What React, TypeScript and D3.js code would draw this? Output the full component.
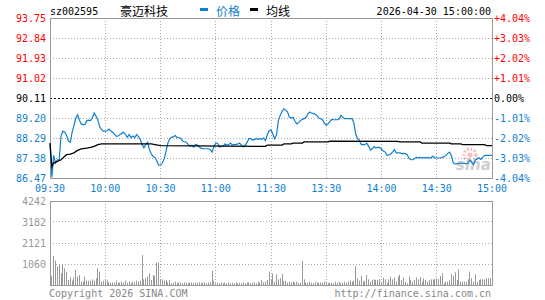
import React from "react";
import * as d3 from "d3";

const prevClose = 90.11;
const priceTicks = [93.75, 92.84, 91.93, 91.02, 90.11, 89.2, 88.29, 87.38, 86.47];
const pctTicks = ["+4.04%", "+3.03%", "+2.02%", "+1.01%", "0.00%", "-1.01%", "-2.02%", "-3.03%", "-4.04%"];
const timeLabels = ["09:30", "10:00", "10:30", "11:00", "11:30", "13:30", "14:00", "14:30", "15:00"];
const volTicks = [4242, 3182, 2121, 1060];

const prices = [
  88.05, 86.5, 87.5, 87.15, 87.3, 87.3, 88.4, 88.6, 88.55, 88.4,
  88.15, 88.1, 88.55, 88.85, 89.2, 89.35, 89.1, 88.93, 88.9, 88.9,
  89.08, 89.1, 89.08, 89.2, 89.43, 89.28, 89.1, 88.8, 88.67, 88.6,
  88.6, 88.62, 88.7, 88.62, 88.55, 88.47, 88.37, 88.38, 88.45, 88.5,
  88.55, 88.45, 88.32, 88.45, 88.3, 88.38, 88.3, 88.45, 88.35, 88.22,
  88.0, 87.85, 88.0, 88.1, 87.76, 87.56, 87.45, 87.4, 87.25, 87.05,
  87.05, 87.15, 87.35, 87.68, 88.06, 88.25, 88.32, 88.35, 88.4, 88.32,
  88.3, 88.28, 88.15, 88.12, 88.1, 88.0, 87.92, 87.96, 87.88, 88.0,
  87.97, 87.88, 87.83, 87.8, 87.8, 87.8, 87.8, 87.77, 87.65, 87.9,
  88.06, 88.05, 87.88, 87.91, 87.91, 88.02, 87.96, 87.99, 88.06, 87.97,
  87.99, 87.99, 88.02, 88.05, 87.96, 87.88, 87.96, 88.09, 88.26, 88.26,
  88.2, 88.23, 88.26, 88.23, 88.26, 88.23, 88.29, 88.17, 88.44, 88.62,
  88.65, 88.47, 88.26, 88.44, 89.08, 89.32, 89.5, 89.62, 89.56, 89.47,
  89.23, 89.2, 89.23, 89.05, 88.93, 88.99, 89.08, 89.14, 89.17, 89.23,
  89.38, 89.47, 89.43, 89.4, 89.37, 89.31, 89.2, 89.17, 89.11, 88.96,
  88.87, 88.93, 89.05, 89.14, 89.12, 89.12, 89.12, 89.15, 89.32, 89.23,
  89.17, 89.17, 89.17, 89.17, 89.17, 88.97, 88.47, 88.26, 88.18, 87.99,
  88.0, 87.99, 88.06, 87.91, 87.74, 87.8, 87.9, 87.83, 87.87, 87.85,
  87.79, 87.7, 87.65, 87.5, 87.52, 87.56, 87.65, 87.76, 87.61, 87.61,
  87.61, 87.58, 87.59, 87.58, 87.53, 87.35, 87.3, 87.3, 87.36, 87.41,
  87.39, 87.41, 87.38, 87.41, 87.38, 87.41, 87.38, 87.41, 87.46, 87.38,
  87.38, 87.38, 87.38, 87.41, 87.44, 87.5, 87.59, 87.65, 87.47, 87.15,
  87.11, 87.11, 87.14, 87.15, 87.12, 87.14, 87.11, 87.15, 87.29, 87.18,
  87.08, 87.29, 87.35, 87.38, 87.32, 87.42, 87.5, 87.5, 87.5, 87.5,
  87.5,
];

const avgMinutes = [
  0, 1, 2, 4, 6, 8, 9, 11, 13, 14,
  16, 17, 20, 22, 24, 26, 28, 55, 57, 60,
  80, 117, 118, 126, 127, 131, 132, 137, 138, 151,
  152, 189, 190, 201, 202, 217, 218, 223, 224, 236,
  237, 240,
];
const avgValues = [
  88.05, 86.98, 87.15, 87.23, 87.3, 87.46, 87.53, 87.56, 87.61, 87.68,
  87.76, 87.8, 87.83, 87.86, 87.91, 87.99, 88.02, 88.02, 87.99, 87.94,
  87.93, 87.91, 87.97, 87.97, 88.02, 88.02, 88.06, 88.06, 88.11, 88.11,
  88.15, 88.14, 88.11, 88.11, 88.06, 88.06, 88.02, 88.02, 87.99, 87.99,
  87.94, 87.94,
];

const volumes = [
  4242, 454, 1464, 1229, 926, 1027, 589, 1027, 842, 673,
  252, 387, 219, 370, 757, 421, 505, 168, 168, 421,
  219, 219, 219, 286, 219, 337, 842, 673, 168, 219,
  252, 219, 135, 118, 135, 118, 219, 118, 118, 168,
  118, 219, 118, 168, 84, 168, 135, 219, 168, 219,
  1515, 286, 337, 421, 589, 252, 505, 454, 1128, 1128,
  286, 286, 219, 252, 135, 252, 84, 118, 168, 84,
  135, 118, 84, 135, 118, 84, 135, 118, 84, 135,
  118, 135, 84, 118, 135, 84, 118, 135, 724, 219,
  84, 118, 84, 135, 84, 118, 84, 135, 84, 118,
  84, 135, 84, 118, 84, 135, 84, 118, 135, 84,
  118, 135, 84, 168, 118, 252, 135, 168, 252, 673,
  252, 589, 168, 539, 286, 337, 555, 202, 202, 118,
  168, 118, 168, 118, 168, 118, 118, 1212, 286, 118,
  118, 168, 118, 84, 168, 118, 118, 118, 118, 168,
  168, 84, 118, 118, 84, 168, 118, 168, 84, 118,
  168, 118, 168, 219, 168, 219, 960, 337, 219, 454,
  168, 219, 505, 286, 168, 252, 286, 252, 252, 286,
  168, 370, 286, 118, 286, 420, 286, 370, 168, 420,
  522, 252, 370, 168, 84, 420, 252, 168, 252, 387,
  286, 387, 168, 337, 252, 168, 252, 286, 286, 286,
  337, 286, 454, 589, 84, 168, 168, 219, 555, 454,
  640, 252, 791, 168, 168, 168, 168, 286, 673, 337,
  168, 539, 168, 252, 286, 286, 286, 337, 337, 337,
  337,
];

const BLUE = "#0f7fd0";
const RED = "#ff0000";
const GRAY = "#999999";
const GRID = "#aaaaaa";
const MONO = "'DejaVu Sans Mono', monospace";
const CJK = "'Noto Sans CJK SC', sans-serif";

export default function App() {
  const x = d3.scaleLinear().domain([0, 240]).range([50, 492]);
  const yP = d3.scaleLinear().domain([86.47, 93.75]).range([178, 18]);
  const yV = d3.scaleLinear().domain([0, 4242]).range([285, 201]);
  const crisp = (v: number) => Math.floor(v + 0.001) + 0.5;

  const priceLine = d3.line<number>().x((_, i) => x(i)).y((d) => yP(d))(prices) || "";
  const avgLine = d3.line<number>().x((_, i) => x(avgMinutes[i])).y((d) => yP(d))(avgValues) || "";

  const gridMinutes = [30, 60, 90, 120, 150, 180, 210];
  const labelColor = (i: number) => (i < 4 ? RED : i === 4 ? "#000" : BLUE);

  return (
    <svg width={545} height={300} style={{ position: "absolute", left: 0, top: 0, background: "#fff" }}>
      {/* header */}
      <text x={50} y={15} fontFamily={MONO} fontSize={10} fill="#000">sz002595</text>
      <text x={120} y={15.5} fontFamily={CJK} fontSize={12} fill="#000">豪迈科技</text>
      <rect x={200} y={8} width={8} height={3} fill={BLUE} />
      <text x={216} y={15.5} fontFamily={CJK} fontSize={12} fill={BLUE}>价格</text>
      <rect x={250} y={8} width={8} height={3} fill="#000" />
      <text x={266} y={15.5} fontFamily={CJK} fontSize={12} fill="#000">均线</text>
      <text x={491} y={15} textAnchor="end" fontFamily={MONO} fontSize={10} fill="#000">2026-04-30 15:00:00</text>

      {/* price grid */}
      {priceTicks.slice(1, -1).map((t, i) => (
        <line key={"hg" + i} x1={x(0)} x2={x(240)} y1={crisp(yP(t))} y2={crisp(yP(t))}
          stroke={t === prevClose ? "#000" : GRID} strokeDasharray={t === prevClose ? "2,2" : "1,2"} />
      ))}
      {gridMinutes.map((m) => (
        <line key={"vg" + m} x1={crisp(x(m))} x2={crisp(x(m))} y1={yP(93.75)} y2={yP(86.47)} stroke={GRID} strokeDasharray="1,2" />
      ))}
      <rect x={crisp(x(0))} y={crisp(yP(93.75))} width={crisp(x(240)) - crisp(x(0))} height={crisp(yP(86.47)) - crisp(yP(93.75))}
        fill="none" stroke={GRAY} />

      {/* watermark */}
      <g opacity={0.55}>
        <circle cx={470} cy={155} r={6} fill="none" stroke="#f08a8a" strokeWidth={3} strokeDasharray="2,1.5" />
        <circle cx={470} cy={155} r={2.5} fill="#f08a8a" />
        <text x={456} y={170} fontFamily="'DejaVu Sans', sans-serif" fontStyle="italic" fontWeight="bold" fontSize={15} fill="#a8a8a8">sina</text>
      </g>

      {/* lines */}
      <path d={priceLine} fill="none" stroke={BLUE} strokeWidth={1.2} />
      <path d={avgLine} fill="none" stroke="#000" strokeWidth={1.3} />

      {/* price labels */}
      {priceTicks.map((t, i) => (
        <text key={"pl" + i} x={46} y={yP(t)} dy="0.36em" textAnchor="end" fontFamily={MONO} fontSize={10} fill={labelColor(i)}>
          {t.toFixed(2)}
        </text>
      ))}
      {pctTicks.map((t, i) => (
        <text key={"pr" + i} x={494} y={yP(priceTicks[i])} dy="0.36em" fontFamily={MONO} fontSize={10} fill={labelColor(i)}>
          {t}
        </text>
      ))}

      {/* time labels */}
      {timeLabels.map((t, i) => (
        <text key={"tl" + i} x={x(i * 30)} y={188} dy="0.36em" textAnchor="middle" fontFamily={MONO} fontSize={10} fill={BLUE}>
          {t}
        </text>
      ))}

      {/* volume grid */}
      {volTicks.slice(1).map((t, i) => (
        <line key={"vh" + i} x1={x(0)} x2={x(240)} y1={crisp(yV(t))} y2={crisp(yV(t))} stroke={GRID} strokeDasharray="1,2" />
      ))}
      {gridMinutes.map((m) => (
        <line key={"vv" + m} x1={crisp(x(m))} x2={crisp(x(m))} y1={yV(4242)} y2={yV(0)} stroke={GRID} strokeDasharray="1,2" />
      ))}
      {volumes.map((v, i) => (
        <line key={"b" + i} x1={crisp(x(i))} x2={crisp(x(i))} y1={yV(0)} y2={yV(v)} stroke={GRAY} strokeWidth={1} />
      ))}
      <rect x={crisp(x(0))} y={crisp(yV(4242))} width={crisp(x(240)) - crisp(x(0))} height={crisp(yV(0)) - crisp(yV(4242))}
        fill="none" stroke={GRAY} />
      {volTicks.map((t, i) => (
        <text key={"vl" + i} x={46} y={yV(t)} dy="0.36em" textAnchor="end" fontFamily={MONO} fontSize={10} fill={GRAY}>
          {t}
        </text>
      ))}

      {/* footer */}
      <text x={49} y={293} dy="0.36em" fontFamily={MONO} fontSize={10} fill="#888">Copyright 2026 SINA.COM</text>
      <text x={491} y={293} dy="0.36em" textAnchor="end" fontFamily={MONO} fontSize={10} fill="#888">http://finance.sina.com.cn</text>
    </svg>
  );
}
